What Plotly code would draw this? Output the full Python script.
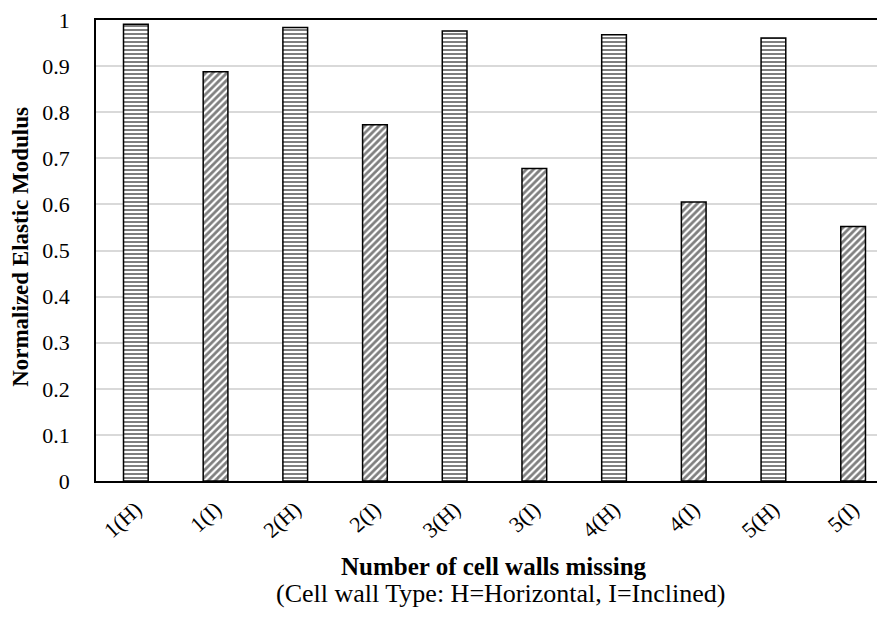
import plotly.graph_objects as go

categories = ["1(H)", "1(I)", "2(H)", "2(I)", "3(H)", "3(I)", "4(H)", "4(I)", "5(H)", "5(I)"]
values = [0.991, 0.888, 0.984, 0.773, 0.976, 0.678, 0.968, 0.605, 0.961, 0.552]
wall_type = ["H", "I", "H", "I", "H", "I", "H", "I", "H", "I"]
y_ticks = [0, 0.1, 0.2, 0.3, 0.4, 0.5, 0.6, 0.7, 0.8, 0.9, 1]
y_tick_labels = ["0", "0.1", "0.2", "0.3", "0.4", "0.5", "0.6", "0.7", "0.8", "0.9", "1"]

shapes = ["-" if t == "H" else "/" for t in wall_type]
sizes = [4 if t == "H" else 5 for t in wall_type]
solids = [0.5 if t == "H" else 0.55 for t in wall_type]

FONT = "Liberation Serif, Times New Roman, serif"

fig = go.Figure()
fig.add_trace(go.Bar(
    x=categories,
    y=values,
    width=0.31,
    marker=dict(
        color="white",
        line=dict(color="black", width=1.5),
        pattern=dict(shape=shapes, fgcolor="black", bgcolor="white",
                     size=sizes, solidity=solids, fillmode="overlay"),
    ),
    hoverinfo="x+y",
))

fig.update_layout(
    width=877, height=609,
    margin=dict(l=88, r=0, t=10, b=136),
    paper_bgcolor="white", plot_bgcolor="white",
    font=dict(family=FONT, size=22, color="black"),
    showlegend=False,
)
fig.update_xaxes(
    range=[-0.5, 9.4],
    tickangle=-42,
    showline=True, linecolor="black", linewidth=1.5, mirror=True,
    showgrid=False, ticks="", ticklabelstandoff=5,
    tickfont=dict(family=FONT, size=22),
)
fig.update_yaxes(
    range=[0, 1],
    tickvals=y_ticks, ticktext=y_tick_labels,
    showline=True, linecolor="black", linewidth=1.5,
    showgrid=True, gridcolor="#d9d9d9", gridwidth=1.5,
    zeroline=False, ticks="", ticklabelstandoff=20,
    ticklabeloverflow="allow",
    tickfont=dict(family=FONT, size=22),
)
fig.add_annotation(
    text="<b>Normalized Elastic Modulus</b>", textangle=-90,
    xref="paper", yref="paper", x=-0.095, y=0.508,
    xanchor="center", yanchor="middle", showarrow=False,
    font=dict(family=FONT, size=23),
)
fig.add_annotation(
    text="<b>Number of cell walls missing</b>",
    xref="paper", yref="paper", x=0.504, y=-0.186,
    xanchor="center", yanchor="middle", showarrow=False,
    font=dict(family=FONT, size=25),
)
fig.add_annotation(
    text="(Cell wall Type: H=Horizontal, I=Inclined)",
    xref="paper", yref="paper", x=0.513, y=-0.244,
    xanchor="center", yanchor="middle", showarrow=False,
    font=dict(family=FONT, size=26),
)

fig.write_html("out.html")
